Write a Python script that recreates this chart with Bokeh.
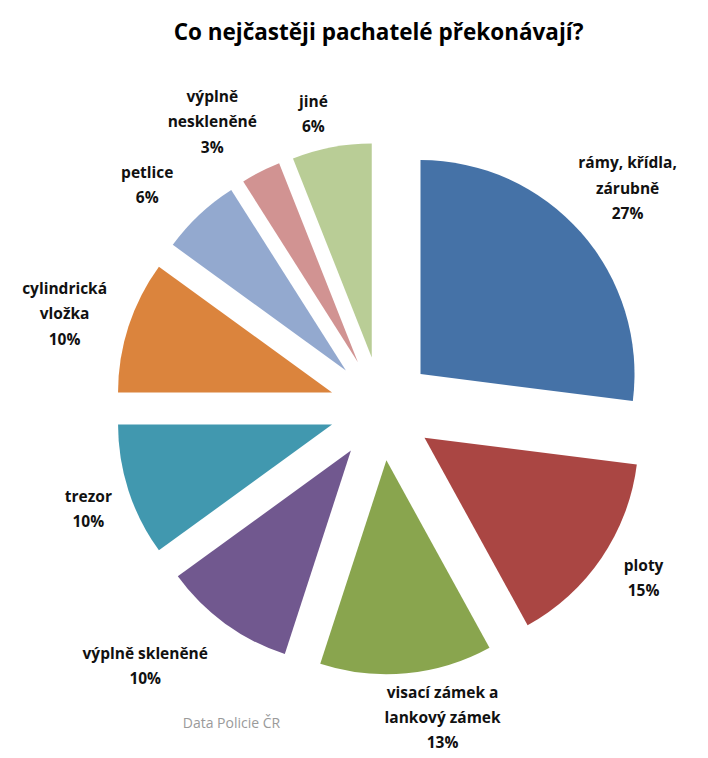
import math
from bokeh.plotting import figure
from bokeh.models import Range1d, ColumnDataSource
from bokeh.core.properties import value
from bokeh.embed import file_html
from bokeh.resources import INLINE

# ---- data ----
categories = ["rámy, křídla,\nzárubně", "ploty", "visací zámek a\nlankový zámek",
              "výplně skleněné", "trezor", "cylindrická\nvložka", "petlice",
              "výplně\nneskleněné", "jiné"]
shares = [27, 15, 13, 10, 10, 10, 6, 3, 6]
colors = ["#4572A7", "#AA4643", "#89A54E", "#71588F", "#4198AF",
          "#DB843D", "#93A9CF", "#D19392", "#B9CD96"]
title_text = "Co nejčastěji pachatelé překonávají?"
source_text = "Data Policie ČR"

# ---- layout (pixels of the 708x758 page) ----
W, H = 708, 758
CX, CY = 381, 408      # pie centre on page
R = 214                # radius in px
EXPLODE = 52 / R
# label placement: radius (in R) and angular nudge (deg) relative to bisector
label_r = [1.545, 1.457, 1.47, 1.631, 1.447, 1.546, 1.514, 1.558, 1.415]
label_nudge = [-0.5, -1.4, -5.8, 6.6, -0.8, -1.3, -3.1, -3.5, -2.2]


def px(ix, iy):
    return (ix - CX) / R, (CY - iy) / R


x0, y1 = px(0, 0)
x1, y0 = px(W, H)

p = figure(width=W, height=H, x_range=Range1d(x0, x1), y_range=Range1d(y0, y1),
           output_backend="svg", toolbar_location=None, min_border=0,
           background_fill_color="white", border_fill_color="white")
p.axis.visible = False
p.grid.visible = False
p.outline_line_color = None

total = sum(shares)
xs, ys, starts, ends = [], [], [], []
lx, ly = [], []
cum = 0.0
for i, s in enumerate(shares):
    f0 = cum / total
    f1 = (cum + s) / total
    cum += s
    # clockwise from 12 o'clock
    a_start = math.pi / 2 - 2 * math.pi * f1
    a_end = math.pi / 2 - 2 * math.pi * f0
    mid = (a_start + a_end) / 2
    xs.append(EXPLODE * math.cos(mid))
    ys.append(EXPLODE * math.sin(mid))
    starts.append(a_start)
    ends.append(a_end)
    la = mid - math.radians(label_nudge[i])
    lx.append(label_r[i] * math.cos(la))
    ly.append(label_r[i] * math.sin(la))

src = ColumnDataSource(dict(x=xs, y=ys, start=starts, end=ends, color=colors,
                            lx=lx, ly=ly,
                            label=[f"{c}\n{s}%" for c, s in zip(categories, shares)]))

p.wedge(x="x", y="y", radius=1.0, start_angle="start", end_angle="end",
        fill_color="color", line_color=None, source=src)

p.text(x="lx", y="ly", text="label", source=src, text_font=value("Open Sans"),
       text_font_style="bold", text_font_size="15.5px", text_color="#111111",
       text_align="center", text_baseline="middle", text_line_height=1.15)

tx, ty = px(378, 31)
p.text(x=[tx], y=[ty], text=[title_text], text_font=value("Open Sans"),
       text_font_style="bold", text_font_size="22.5px", text_color="#000000",
       text_align="center", text_baseline="middle")

sx, sy = px(231, 722)
p.text(x=[sx], y=[sy], text=[source_text], text_font=value("Open Sans"),
       text_font_size="14px", text_color="#9a9a9a",
       text_align="center", text_baseline="middle")

open("out.html", "w").write(file_html(p, INLINE))
